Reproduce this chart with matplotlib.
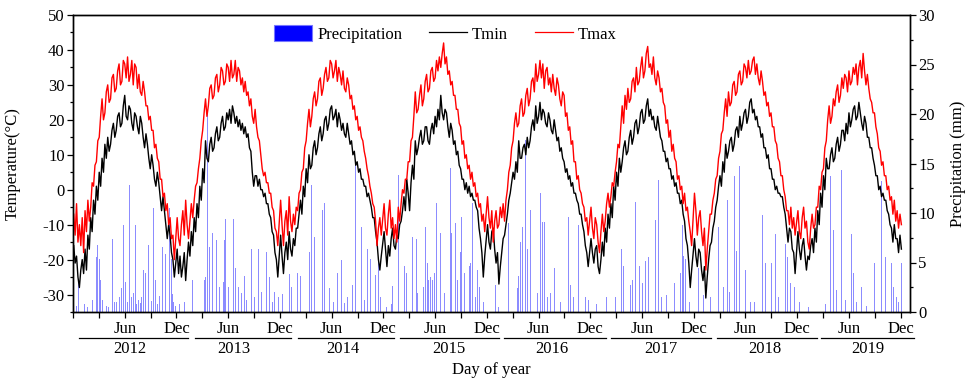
import numpy as np
import matplotlib
matplotlib.use("Agg")
import matplotlib.pyplot as plt
from matplotlib.patches import Patch
from matplotlib.lines import Line2D
from matplotlib.ticker import MultipleLocator, FixedLocator
import matplotlib.transforms as mtransforms

plt.rcParams['font.family'] = ['Liberation Serif', 'DejaVu Serif']
plt.rcParams['font.size'] = 12
plt.rcParams['axes.unicode_minus'] = False

years = [2012, 2013, 2014, 2015, 2016, 2017, 2018, 2019]
tick_names = ["Jun", "Dec"]

# 5-day temperature readings (degC)
tmax_2012 = [-7, -13, -4, -15, -10, -16, -8, -18, -6, -12, -3, -9, -5, 2, 1, 7, 8, 14, 15, 21, 26, 20, 22, 28,
             30, 25, 26, 32, 33, 28, 29, 34, 36, 30, 31, 37, 36, 32, 38, 31, 33, 37, 30, 36, 35, 29, 33, 28,
             27, 31, 28, 24, 24, 20, 21, 17, 17, 12, 13, 9, 8, 3, 3, -2, -1, -6, -4, -10, -8, -14, -13, -20]
tmin_2012 = [-16, -21, -19, -25, -28, -23, -20, -24, -17, -23, -13, -17, -8, -12, -3, -7, 1, -3, 5, 1, 9, 5, 13, 9,
             15, 11, 13, 17, 19, 15, 17, 21, 22, 18, 19, 24, 27, 21, 20, 24, 23, 19, 17, 22, 21, 18, 16, 21,
             19, 15, 12, 16, 13, 9, 6, 10, 7, 3, 1, 5, 2, -2, -6, -2, -6, -10, -14, -10, -13, -18, -20, -25]
tmax_2013 = [-8, -14, -16, -10, -6, -13, -3, -10, -14, -9, -4, -8, -3, 1, 2, 6, 9, 14, 17, 22, 26, 21, 24, 29,
             30, 26, 27, 32, 33, 28, 30, 35, 34, 30, 31, 36, 35, 31, 37, 32, 33, 37, 31, 35, 34, 30, 32, 28,
             31, 27, 28, 24, 26, 21, 19, 23, 18, 15, 14, 10, 6, 4, 5, 2, 2, -1, -1, -5, -6, -11, -12, -16]
tmin_2013 = [-17, -24, -19, -25, -22, -18, -26, -20, -15, -19, -12, -16, -8, -12, -4, -8, 1, -3, 6, 2, 14, 9, 8, 13,
             15, 11, 12, 16, 18, 14, 15, 19, 21, 17, 18, 22, 20, 23, 19, 24, 22, 19, 21, 18, 20, 17, 19, 16,
             18, 15, 16, 12, 11, 5, 1, 4, 4, 1, 3, 0, 0, -2, -1, -4, -4, -7, -8, -12, -13, -18, -20, -25]
tmax_2014 = [-3, -10, -16, -9, -6, -13, -2, -9, -12, -7, -10, -5, -6, -1, 0, 5, 6, 12, 14, 19, 23, 18, 21, 26,
             28, 24, 26, 31, 32, 27, 29, 33, 35, 31, 32, 37, 36, 32, 34, 37, 31, 35, 33, 30, 34, 29, 28, 32,
             30, 26, 27, 23, 24, 20, 21, 17, 18, 15, 14, 11, 9, 6, 4, 1, -1, -4, -5, -9, -16, -11, -8, -13]
tmin_2014 = [-13, -19, -24, -18, -15, -20, -12, -17, -19, -14, -16, -11, -11, -7, -3, -7, 1, -2, 6, 2, 10, 6, 7, 12,
             14, 10, 12, 16, 18, 14, 16, 20, 21, 17, 19, 23, 24, 20, 21, 23, 18, 22, 20, 17, 19, 16, 15, 19,
             16, 13, 14, 10, 11, 7, 8, 5, 6, 3, 3, 1, 1, -2, -1, -3, -5, -8, -8, -12, -15, -20, -23, -19]
tmax_2015 = [-4, -11, -13, -7, -3, -11, -8, -14, -10, -15, -5, -9, -4, 0, -1, 3, 3, 8, 8, 14, 15, 21, 28, 22,
             23, 27, 30, 24, 26, 31, 33, 28, 29, 34, 35, 31, 32, 37, 34, 38, 35, 39, 42, 36, 38, 33, 34, 30,
             31, 27, 27, 23, 23, 19, 18, 13, 14, 9, 10, 6, 7, 3, 5, 1, 2, -2, -1, -5, -4, -9, -7, -12]
tmin_2015 = [-12, -17, -22, -16, -19, -14, -11, -16, -17, -13, -14, -10, -9, -6, -2, -6, 3, -1, -6, 2, 7, 3, 14, 10,
             12, 15, 17, 13, 14, 18, 18, 14, 13, 17, 19, 16, 21, 18, 23, 20, 27, 22, 20, 23, 22, 18, 15, 19,
             17, 13, 14, 10, 11, 7, 6, 3, 3, 0, 2, -1, 1, -2, -1, -3, -3, -5, -6, -11, -14, -18, -25, -19]
tmax_2016 = [-2, -8, -11, -6, -15, -9, -6, -11, -10, -5, -8, -4, -9, -3, 0, 5, 7, 12, 14, 19, 22, 18, 19, 24,
             26, 21, 22, 27, 29, 24, 26, 31, 32, 28, 36, 31, 33, 37, 32, 36, 29, 34, 35, 30, 32, 28, 33, 29,
             27, 32, 30, 26, 24, 28, 27, 21, 22, 17, 18, 13, 14, 8, 8, 3, 4, 0, -1, -4, -5, -9, -8, -13]
tmin_2016 = [-10, -15, -17, -12, -11, -17, -21, -18, -27, -22, -18, -14, -13, -10, -7, -3, -1, 2, 5, 3, 8, 5, 14, 9,
             9, 12, 13, 10, 15, 12, 14, 18, 20, 17, 24, 19, 21, 25, 20, 23, 22, 19, 18, 22, 20, 17, 16, 20,
             17, 14, 15, 11, 12, 9, 8, 5, 6, 3, 4, 1, 2, -1, -1, -3, -4, -7, -7, -10, -12, -16, -18, -22]
tmax_2017 = [-5, -11, -14, -8, -10, -15, -18, -12, -7, -12, -9, -4, -1, -5, -2, 2, 1, 5, 8, 13, 12, 18, 24, 19,
             27, 23, 29, 25, 26, 31, 32, 28, 35, 30, 31, 35, 38, 32, 34, 39, 41, 35, 36, 33, 38, 32, 30, 34,
             32, 28, 29, 25, 24, 19, 20, 15, 17, 11, 13, 9, 8, 3, 4, 0, 1, -4, -1, -6, -5, -9, -12, -16]
tmin_2017 = [-14, -18, -21, -17, -16, -22, -24, -20, -15, -19, -11, -15, -7, -11, -4, -8, 1, -3, 5, 1, 9, 5, 8, 12,
             14, 10, 11, 15, 17, 13, 15, 19, 20, 16, 18, 22, 23, 19, 20, 24, 26, 21, 23, 20, 21, 18, 17, 21,
             18, 15, 14, 11, 11, 8, 9, 6, 6, 3, 4, 1, 2, -1, -1, -4, -3, -7, -9, -14, -16, -21, -28, -23]
tmax_2018 = [-1, -6, -13, -8, -6, -12, -16, -11, -23, -17, -12, -7, -7, -3, -1, 3, 4, 9, 11, 16, 17, 22, 26, 21,
             28, 24, 25, 30, 31, 27, 28, 33, 34, 30, 31, 36, 35, 32, 37, 33, 34, 37, 38, 33, 36, 32, 30, 34,
             31, 27, 28, 24, 25, 21, 22, 18, 18, 14, 13, 9, 8, 4, 4, 0, -2, -6, -6, -10, -5, -11, -8, -13]
tmin_2018 = [-14, -19, -22, -17, -18, -23, -26, -22, -31, -25, -20, -16, -15, -11, -9, -5, -3, 1, 4, 1, 8, 5, 13, 9,
             11, 14, 15, 11, 13, 17, 18, 15, 21, 17, 19, 22, 23, 19, 21, 25, 26, 22, 23, 20, 21, 18, 18, 15,
             16, 12, 12, 9, 10, 6, 6, 3, 3, 0, 1, -1, -1, -2, -2, -5, -7, -11, -15, -11, -12, -17, -18, -24]
tmax_2019 = [-6, -12, -14, -8, -5, -11, -9, -15, -17, -11, -7, -11, -10, -5, -5, 1, 0, 5, 6, 12, 14, 20, 24, 19,
             21, 26, 24, 28, 30, 25, 27, 32, 29, 33, 32, 28, 34, 30, 31, 35, 33, 36, 30, 35, 37, 32, 39, 34,
             30, 33, 29, 26, 25, 22, 22, 18, 16, 12, 11, 7, 8, 4, 4, 0, 1, -3, -2, -7, -3, -9, -6, -11, -7, -10]
tmin_2019 = [-12, -17, -20, -16, -14, -19, -23, -19, -20, -16, -14, -18, -11, -15, -6, -10, -1, -5, 4, 0, 9, 6, 6, 10,
             12, 8, 9, 13, 15, 11, 13, 17, 17, 14, 19, 16, 22, 18, 20, 23, 24, 20, 21, 25, 22, 19, 17, 21,
             19, 15, 15, 12, 12, 9, 7, 4, 4, 0, 1, -2, -1, -3, -3, -6, -7, -10, -11, -15, -10, -14, -14, -18,
             -13, -17]

# Daily precipitation events: (day of year, mm)
precip_2012 = [(12, 0.6), (19, 3.1), (40, 0.8), (52, 0.5), (70, 1.2), (84, 5.6), (88, 6.8), (93, 5.4), (98, 3.2),
               (104, 1.2), (118, 0.6), (124, 0.5), (141, 7.4), (146, 1.0), (152, 1.0), (165, 1.5), (171, 2.4),
               (177, 8.8), (186, 3.0), (192, 1.0), (198, 12.8), (205, 1.5), (213, 1.9), (219, 8.8), (225, 0.8),
               (231, 1.2), (237, 0.9), (243, 1.5), (250, 4.2), (256, 3.9), (268, 6.8), (276, 1.1), (283, 10.5),
               (290, 3.2), (297, 0.8), (305, 1.6), (317, 6.6), (328, 5.9), (342, 10.5), (346, 5.4), (352, 1.8),
               (356, 1.0), (363, 0.6)]
precip_2013 = [(10, 0.8), (30, 1.0), (57, 3.2), (76, 2.5), (99, 3.2), (104, 3.5), (109, 20.0), (118, 6.6),
               (127, 8.0), (140, 7.3), (152, 2.5), (165, 3.0), (169, 7.3), (173, 9.4), (185, 2.5), (201, 9.4),
               (210, 4.4), (218, 2.5), (228, 1.9), (240, 3.6), (248, 1.2), (263, 6.4), (275, 1.5), (289, 6.4),
               (300, 2.0), (317, 6.1), (329, 3.5), (340, 1.0), (347, 2.0), (359, 1.5)]
precip_2014 = [(10, 1.8), (33, 3.8), (40, 2.5), (62, 3.9), (74, 3.6), (92, 3.6), (104, 6.1), (111, 12.8),
               (122, 7.6), (150, 10.3), (159, 11.0), (174, 2.4), (190, 1.0), (203, 3.9), (217, 5.3), (227, 0.9),
               (240, 1.5), (256, 2.7), (268, 15.0), (289, 8.6), (300, 1.2), (309, 6.4), (321, 5.4), (336, 3.7),
               (347, 5.4), (355, 1.5)]
precip_2015 = [(10, 0.5), (27, 0.8), (33, 2.6), (53, 13.8), (74, 4.6), (81, 3.9), (103, 7.6), (116, 7.4),
               (121, 1.9), (140, 2.5), (149, 8.6), (154, 4.9), (160, 3.2), (166, 3.5), (174, 3.2), (180, 3.9),
               (188, 11.0), (203, 8.0), (215, 1.9), (236, 14.5), (242, 8.0), (253, 9.0), (262, 3.2), (271, 6.1),
               (277, 9.6), (285, 3.9), (303, 4.6), (309, 4.9), (315, 11.0), (325, 1.5), (332, 4.2), (338, 2.5),
               (352, 1.0)]
precip_2016 = [(31, 2.7), (42, 0.5), (75, 9.0), (107, 2.4), (113, 3.6), (119, 7.1), (127, 8.6), (136, 17.4),
               (142, 6.4), (154, 10.3), (178, 1.9), (184, 5.8), (189, 12.0), (195, 9.1), (205, 9.1), (213, 1.5),
               (225, 1.9), (237, 4.4), (260, 1.0), (289, 9.6), (295, 2.7), (307, 1.5), (325, 8.8), (348, 1.5),
               (360, 1.2)]
precip_2017 = [(22, 0.8), (58, 1.5), (88, 1.5), (109, 6.4), (116, 4.6), (143, 2.7), (148, 3.2), (161, 11.1),
               (173, 4.6), (184, 2.9), (196, 5.2), (205, 5.6), (230, 9.3), (240, 13.3), (252, 1.5), (270, 1.7),
               (296, 2.9), (317, 3.9), (325, 8.8), (330, 5.7), (336, 5.4), (350, 1.0)]
precip_2018 = [(15, 4.4), (35, 1.7), (60, 1.5), (89, 8.6), (105, 2.5), (119, 11.3), (125, 2.0), (142, 13.7),
               (150, 6.2), (160, 14.7), (181, 4.2), (200, 1.0), (215, 1.0), (244, 9.8), (254, 4.9), (275, 4.9),
               (287, 7.9), (300, 1.5), (322, 6.9), (330, 5.6), (342, 2.9), (354, 2.5)]
precip_2019 = [(9, 1.0), (40, 0.5), (100, 0.8), (116, 13.7), (128, 8.3), (140, 2.2), (157, 14.3), (170, 1.2),
               (190, 7.9), (199, 3.9), (210, 1.0), (227, 2.5), (245, 0.6), (274, 5.0), (296, 13.2), (313, 5.6),
               (331, 5.0), (340, 2.5), (350, 1.5), (358, 1.0), (368, 5.0)]

tmax_years = [tmax_2012, tmax_2013, tmax_2014, tmax_2015, tmax_2016, tmax_2017, tmax_2018, tmax_2019]
tmin_years = [tmin_2012, tmin_2013, tmin_2014, tmin_2015, tmin_2016, tmin_2017, tmin_2018, tmin_2019]
precip_years = [precip_2012, precip_2013, precip_2014, precip_2015, precip_2016, precip_2017, precip_2018,
                precip_2019]

# x positions in years since 1 Jan 2012
xt, tmax, tmin = [], [], []
for k, (a, b) in enumerate(zip(tmax_years, tmin_years)):
    days = 2.5 + 5 * np.arange(len(a))
    xt.extend(k + days / 365.0)
    tmax.extend(a)
    tmin.extend(b)
xp, pp = [], []
for k, ev in enumerate(precip_years):
    for d, v in ev:
        xp.append(k + d / 365.0)
        pp.append(v)

W, H = 967, 380
fig = plt.figure(figsize=(W / 100, H / 100), dpi=100)
ax = fig.add_axes([73 / W, 1 - 312 / H, (910 - 73) / W, (312 - 15) / H])
ax2 = ax.twinx()
ax.set_zorder(ax2.get_zorder() + 1)
ax.patch.set_visible(False)

ax2.bar(xp, pp, width=3.5 / 365, color='blue', alpha=0.45, linewidth=0)
ax.plot(xt, tmin, color='black', lw=1.0)
ax.plot(xt, tmax, color='red', lw=1.0)

ax.set_xlim(0, 8.09)
ax.set_ylim(-35, 50)
ax2.set_ylim(0, 30)

ax.set_yticks(range(-30, 51, 10))
ax.yaxis.set_minor_locator(MultipleLocator(5))
ax2.set_yticks(range(0, 31, 5))
ax2.yaxis.set_minor_locator(MultipleLocator(2.5))

major_x = []
labels_x = []
for k in range(len(years)):
    major_x += [k + 0.5, k + 1.0]
    labels_x += tick_names
ax.set_xticks(major_x)
ax.set_xticklabels(labels_x)
ax.xaxis.set_minor_locator(FixedLocator([k + f for k in range(len(years)) for f in (0.0, 0.25, 0.75)]))

for a in (ax, ax2):
    for s in a.spines.values():
        s.set_linewidth(1.0)
ax.tick_params(axis='x', which='both', direction='out', length=4, width=0.9, pad=2.5, labelsize=12)
ax.tick_params(axis='y', which='major', direction='out', length=4, width=0.9, pad=2, labelsize=12)
ax.tick_params(axis='y', which='minor', direction='out', length=2.5, width=0.9)
ax2.tick_params(axis='y', which='major', direction='out', length=4, width=0.9, pad=2, labelsize=12)
ax2.tick_params(axis='y', which='minor', direction='out', length=2.5, width=0.9)

ax.set_ylabel('Temperature(°C)', fontsize=12)
ax.yaxis.set_label_coords(-0.062, 0.5)
ax2.set_ylabel('Precipitation (mm)', fontsize=12)
ax2.yaxis.set_label_coords(1.048, 0.5)

trans = mtransforms.blended_transform_factory(ax.transData, ax.transAxes)
line_start = [0.06, 1.18, 2.17, 3.16, 4.17, 5.20, 6.22, 7.23]
line_end = [1.11, 2.11, 3.10, 4.12, 5.15, 6.17, 7.19, 8.13]
label_pos = [0.55, 1.55, 2.61, 3.63, 4.63, 5.68, 6.69, 7.68]
for yr, s, e, c in zip(years, line_start, line_end, label_pos):
    ax.add_line(Line2D([s, e], [-0.0875, -0.0875], transform=trans, color='black', lw=0.9, clip_on=False))
    ax.text(c, -0.125, str(yr), transform=trans, ha='center', va='center', fontsize=12)
ax.text(0.5, -0.195, 'Day of year', transform=ax.transAxes, ha='center', va='center', fontsize=12)

handles = [Patch(facecolor='blue', edgecolor='#7777ff', linewidth=0.8),
           Line2D([], [], color='black', lw=0.9),
           Line2D([], [], color='red', lw=0.9)]
leg = ax.legend(handles, ['Precipitation', 'Tmin', 'Tmax'], loc='center left', bbox_to_anchor=(0.24, 0.935),
                ncol=3, frameon=False, fontsize=12, handlelength=2.3, handleheight=1.1, handletextpad=0.3,
                columnspacing=1.6, borderaxespad=0, borderpad=0)

fig.savefig('out.png', dpi=100)
